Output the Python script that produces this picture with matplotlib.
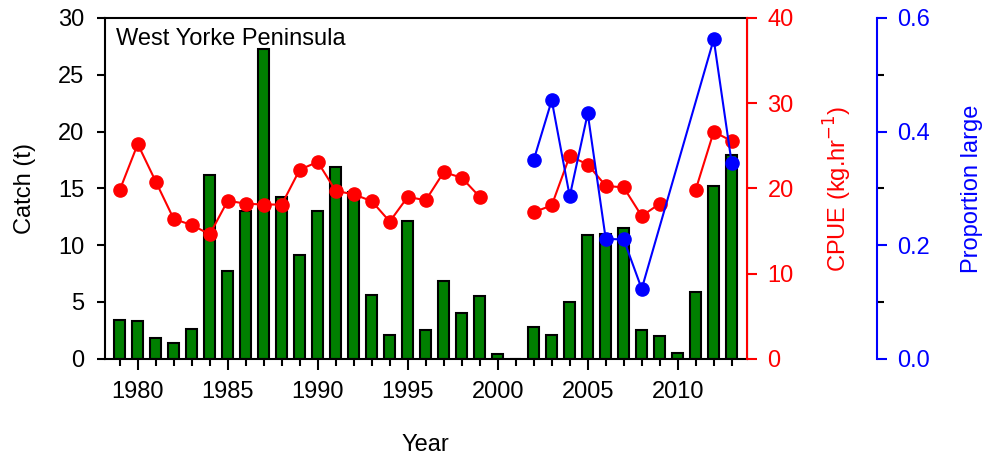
import numpy as np
import matplotlib
matplotlib.use("Agg")
import matplotlib.pyplot as plt
from matplotlib.ticker import MultipleLocator

plt.rcParams['font.family'] = ['Liberation Sans', 'DejaVu Sans']
plt.rcParams['font.size'] = 17

years = np.arange(1979, 2014)
catch = [3.4, 3.35, 1.85, 1.4, 2.6, 16.2, 7.7, 13.0, 27.3, 14.2,
         9.1, 13.0, 16.9, 14.7, 5.65, 2.1, 12.1, 2.5, 6.8, 4.0,
         5.55, 0.4, 0.0, 2.75, 2.05, 5.0, 10.85, 11.0, 11.5, 2.5,
         2.0, 0.5, 5.9, 15.2, 17.95]
cpue = [19.8, 25.2, 20.8, 16.4, 15.7, 14.6, 18.55, 18.2, 18.1, 18.1,
        22.2, 23.1, 19.7, 19.3, 18.5, 16.1, 19.0, 18.6, 21.9, 21.25,
        19.0, np.nan, np.nan, 17.2, 18.0, 23.8, 22.8, 20.3, 20.1, 16.75,
        18.2, np.nan, 19.85, 26.65, 25.55]
prop_years = [2002, 2003, 2004, 2005, 2006, 2007, 2008, 2012, 2013]
prop_large = [0.35, 0.455, 0.286, 0.432, 0.211, 0.21, 0.123, 0.5625, 0.344]

fig = plt.figure(figsize=(9.84, 4.59), dpi=100)
ax = fig.add_axes([0.1067, 0.2185, 0.6521, 0.7423])

ax.bar(years, catch, width=0.62, color='#007f00', edgecolor='black', linewidth=1.5)
ax.set_xlim(1978.18, 2013.83)
ax.set_ylim(0, 30)
ax.yaxis.set_major_locator(MultipleLocator(5))
ax.xaxis.set_major_locator(MultipleLocator(5))
ax.xaxis.set_minor_locator(MultipleLocator(1))
ax.tick_params(axis='y', which='major', direction='out', length=6, width=1.5, pad=9)
ax.tick_params(axis='x', which='major', direction='out', length=8, width=1.5, pad=8)
ax.tick_params(axis='x', which='minor', direction='out', length=5, width=1.5)
for s in ['left', 'bottom', 'top']:
    ax.spines[s].set_linewidth(1.5)
ax.set_xlabel('Year', va='center')
ax.xaxis.set_label_coords(0.5, -0.253)
ax.set_ylabel('Catch (t)', va='center')
ax.yaxis.set_label_coords(-0.125, 0.5)
ax.text(0.017, 0.97, 'West Yorke Peninsula', transform=ax.transAxes, ha='left', va='top')

# CPUE on red right axis
ax2 = ax.twinx()
ax2.plot(years, cpue, color='red', marker='o', markersize=9.5, linewidth=1.5)
ax2.set_ylim(0, 40)
ax2.yaxis.set_major_locator(MultipleLocator(10))
ax2.spines['right'].set_color('red')
ax2.spines['right'].set_linewidth(1.5)
for s in ['left', 'bottom', 'top']:
    ax2.spines[s].set_visible(False)
ax2.tick_params(axis='y', colors='red', direction='out', length=7, width=1.5, pad=8)
ax2.set_ylabel('CPUE (kg.hr$^{-1}$)', color='red')
ax2.yaxis.label.set_va('center')
ax2.yaxis.set_label_coords(1.142, 0.5)

# proportion large on blue offset axis
ax3 = ax.twinx()
ax3.plot(prop_years, prop_large, color='blue', marker='o', markersize=9.5, linewidth=1.5)
ax3.set_ylim(0, 0.6)
ax3.set_yticks([0.0, 0.2, 0.4, 0.6])
ax3.set_yticklabels(['0.0', '0.2', '0.4', '0.6'])
ax3.yaxis.set_minor_locator(MultipleLocator(0.1))
ax3.spines['right'].set_position(('outward', 130 * 72 / 100))
ax3.spines['right'].set_color('blue')
ax3.spines['right'].set_linewidth(1.5)
for s in ['left', 'bottom', 'top']:
    ax3.spines[s].set_visible(False)
ax3.tick_params(axis='y', which='major', colors='blue', direction='out', length=7, width=1.5, pad=8)
ax3.tick_params(axis='y', which='minor', color='black', direction='out', length=5, width=1.5)
ax3.set_ylabel('Proportion large', color='blue')
ax3.yaxis.label.set_va('center')
ax3.yaxis.set_label_coords(1.351, 0.5)

fig.savefig('out.png', dpi=100)
